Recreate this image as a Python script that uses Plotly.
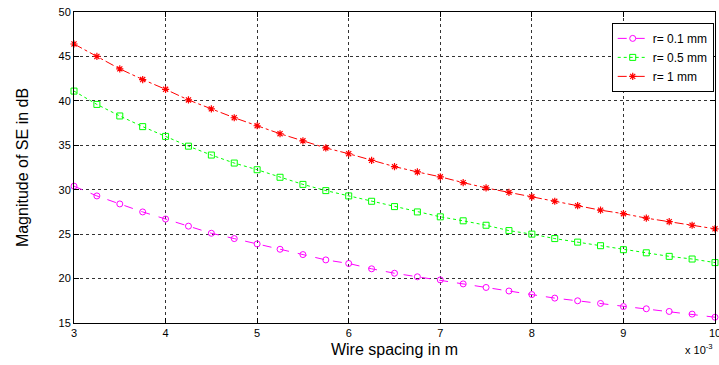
import plotly.graph_objects as go

# Wire spacing (in units of 1e-3 m)
spacing = [3.0, 3.25, 3.5, 3.75, 4.0, 4.25, 4.5, 4.75, 5.0, 5.25, 5.5, 5.75, 6.0, 6.25, 6.5,
           6.75, 7.0, 7.25, 7.5, 7.75, 8.0, 8.25, 8.5, 8.75, 9.0, 9.25, 9.5, 9.75, 10.0]

se_r01 = [30.4, 29.3, 28.4, 27.5, 26.7, 25.9, 25.1, 24.5, 23.9, 23.3, 22.7, 22.1, 21.7, 21.1, 20.6,
          20.2, 19.85, 19.4, 19.0, 18.6, 18.2, 17.8, 17.5, 17.2, 16.85, 16.6, 16.3, 16.0, 15.65]
se_r05 = [41.1, 39.6, 38.3, 37.1, 36.0, 34.9, 33.9, 33.0, 32.25, 31.4, 30.6, 29.9, 29.3, 28.7, 28.1,
          27.5, 26.95, 26.5, 26.0, 25.4, 25.0, 24.5, 24.1, 23.7, 23.25, 22.9, 22.5, 22.2, 21.8]
se_r1 = [46.4, 45.0, 43.6, 42.4, 41.3, 40.1, 39.1, 38.1, 37.2, 36.3, 35.5, 34.7, 34.05, 33.3, 32.6,
         32.0, 31.45, 30.8, 30.2, 29.7, 29.2, 28.7, 28.2, 27.7, 27.3, 26.8, 26.4, 26.0, 25.6]

x_ticks = [3, 4, 5, 6, 7, 8, 9, 10]
y_ticks = [15, 20, 25, 30, 35, 40, 45, 50]

fig = go.Figure()
fig.add_trace(go.Scatter(
    x=spacing, y=se_r01, name="r= 0.1 mm", mode="lines+markers", cliponaxis=False,
    line=dict(color="#ff00ff", width=1, dash="dash"),
    marker=dict(symbol="circle-open", size=6, color="#ff00ff", line=dict(width=1, color="#ff00ff"))))
fig.add_trace(go.Scatter(
    x=spacing, y=se_r05, name="r= 0.5 mm", mode="lines+markers", cliponaxis=False,
    line=dict(color="#00ff00", width=1, dash="dot"),
    marker=dict(symbol="square-open", size=6, color="#00ff00", line=dict(width=1, color="#00ff00"))))
fig.add_trace(go.Scatter(
    x=spacing, y=se_r1, name="r= 1 mm", mode="lines+markers", cliponaxis=False,
    line=dict(color="#ff0000", width=1, dash="dashdot"),
    marker=dict(symbol="asterisk-open", size=6, color="#ff0000", line=dict(width=1.2, color="#ff0000"))))

axis_common = dict(
    showline=True, linecolor="black", linewidth=1, mirror="ticks",
    ticks="inside", ticklen=5, tickcolor="black",
    showgrid=True, gridcolor="#333333", gridwidth=1, griddash="dot",
    zeroline=False, ticklabeloverflow="allow", automargin=False,
    tickfont=dict(family="Liberation Sans, Arial", size=11, color="black"),
)

fig.update_layout(
    width=719, height=365,
    margin=dict(l=74, r=4, t=12, b=42),
    paper_bgcolor="white", plot_bgcolor="white",
    font=dict(family="Liberation Sans, Arial", color="black"),
    xaxis=dict(range=[3, 10], tickvals=x_ticks, ticktext=[str(v) for v in x_ticks],
               title=dict(text="Wire spacing in m", font=dict(size=16), standoff=5), **axis_common),
    yaxis=dict(range=[15, 50], tickvals=y_ticks, ticktext=[str(v) for v in y_ticks],
               title=dict(text="Magnitude of SE in dB", font=dict(size=16), standoff=25), **axis_common),
    legend=dict(x=0.998, y=0.965, xanchor="right", yanchor="top",
                bgcolor="white", bordercolor="black", borderwidth=1,
                font=dict(size=12), tracegroupgap=0, itemwidth=30),
    showlegend=True,
)

fig.add_annotation(text="x 10<sup>-3</sup>", xref="paper", yref="paper", x=1.0, y=-0.055,
                   xanchor="right", yanchor="top", showarrow=False,
                   font=dict(size=11, color="black"))

fig.write_html("out.html", config={"displayModeBar": False},
               post_script="document.body.style.margin='0px';")
